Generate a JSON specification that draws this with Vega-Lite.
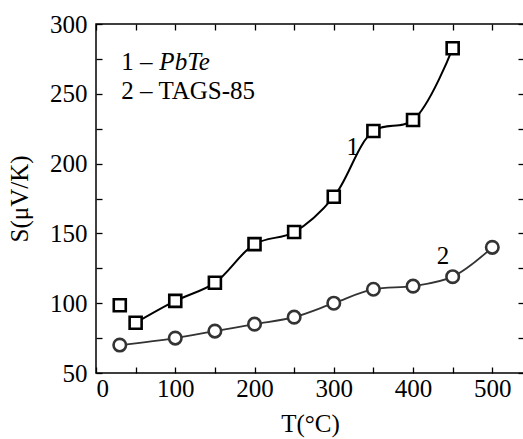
{
  "$schema": "https://vega.github.io/schema/vega-lite/v6.json",
  "width": 428,
  "height": 349,
  "autosize": {"type": "none"},
  "padding": {"left": 96, "top": 24, "right": 0, "bottom": 66},
  "config": {
    "font": "Liberation Serif",
    "view": {"stroke": "black", "strokeWidth": 1.5},
    "axis": {
      "grid": false,
      "domain": false,
      "tickColor": "black",
      "tickWidth": 1.3,
      "tickSize": -6,
      "labelColor": "black",
      "titleColor": "black",
      "labelFontSize": 25,
      "titleFontSize": 25,
      "titleFontWeight": "normal",
      "labelFont": "Liberation Serif",
      "titleFont": "Liberation Serif"
    }
  },
  "datasets": {
    "pts": [
      {"series": "1", "T": 30, "S": 98.5},
      {"series": "1", "T": 50, "S": 86},
      {"series": "1", "T": 100, "S": 101.7},
      {"series": "1", "T": 150, "S": 114.6},
      {"series": "1", "T": 200, "S": 142.3},
      {"series": "1", "T": 250, "S": 151},
      {"series": "1", "T": 300, "S": 176.2},
      {"series": "1", "T": 350, "S": 223.3},
      {"series": "1", "T": 400, "S": 231.2},
      {"series": "1", "T": 450, "S": 282.6},
      {"series": "2", "T": 30, "S": 70},
      {"series": "2", "T": 100, "S": 75},
      {"series": "2", "T": 150, "S": 80},
      {"series": "2", "T": 200, "S": 85},
      {"series": "2", "T": 250, "S": 90},
      {"series": "2", "T": 300, "S": 100},
      {"series": "2", "T": 350, "S": 110},
      {"series": "2", "T": 400, "S": 112.2},
      {"series": "2", "T": 450, "S": 119},
      {"series": "2", "T": 500, "S": 140}
    ],
    "labels": [
      {"kind": "legend", "T": 32, "S": 267, "text": "1 – "},
      {"kind": "legend", "T": 32, "S": 246.5, "text": "2 – TAGS-85"},
      {"kind": "curve", "T": 316, "S": 206, "text": "1"},
      {"kind": "curve", "T": 430, "S": 128, "text": "2"}
    ],
    "italic": [
      {"T": 32, "S": 267, "text": "PbTe"}
    ]
  },
  "layer": [
    {
      "data": {"name": "pts"},
      "transform": [{"filter": "datum.series == '1' && datum.T >= 50"}],
      "mark": {"type": "line", "interpolate": "catmull-rom", "color": "black", "strokeWidth": 2},
      "encoding": {
        "x": {
          "field": "T", "type": "quantitative",
          "scale": {"domain": [0, 540], "nice": false, "zero": false},
          "axis": {
            "orient": "bottom",
            "title": "T(°C)",
            "values": [0, 50, 100, 150, 200, 250, 300, 350, 400, 450, 500],
            "labelExpr": "datum.value % 100 == 0 ? datum.label : ''",
            "labelPadding": 9,
            "titlePadding": 10
          }
        },
        "y": {
          "field": "S", "type": "quantitative",
          "scale": {"domain": [50, 300], "nice": false, "zero": false},
          "axis": {
            "orient": "left",
            "title": "S(μV/K)",
            "values": [50, 75, 100, 125, 150, 175, 200, 225, 250, 275, 300],
            "labelExpr": "datum.value % 50 == 0 ? datum.label : ''",
            "labelPadding": 15,
            "titlePadding": 17
          }
        }
      }
    },
    {
      "data": {"name": "pts"},
      "transform": [{"filter": "datum.series == '2'"}],
      "mark": {"type": "line", "interpolate": "catmull-rom", "color": "#333333", "strokeWidth": 1.8},
      "encoding": {
        "x": {"field": "T", "type": "quantitative", "axis": null},
        "y": {"field": "S", "type": "quantitative", "axis": null}
      }
    },
    {
      "data": {"name": "pts"},
      "transform": [{"filter": "datum.series == '1'"}],
      "mark": {"type": "point", "shape": "square", "size": 144, "filled": false, "fill": "white", "fillOpacity": 1, "stroke": "black", "strokeWidth": 2.6, "opacity": 1},
      "encoding": {
        "x": {"field": "T", "type": "quantitative", "axis": null},
        "y": {"field": "S", "type": "quantitative", "axis": null}
      }
    },
    {
      "data": {"name": "pts"},
      "transform": [{"filter": "datum.series == '2'"}],
      "mark": {"type": "point", "shape": "circle", "size": 156, "filled": false, "fill": "white", "fillOpacity": 1, "stroke": "#333333", "strokeWidth": 2.6, "opacity": 1},
      "encoding": {
        "x": {"field": "T", "type": "quantitative", "axis": null},
        "y": {"field": "S", "type": "quantitative", "axis": null}
      }
    },
    {
      "data": {"name": "labels"},
      "mark": {"type": "text", "align": "left", "baseline": "alphabetic", "fontSize": 25, "font": "Liberation Serif", "color": "black"},
      "encoding": {
        "x": {"field": "T", "type": "quantitative", "axis": null},
        "y": {"field": "S", "type": "quantitative", "axis": null},
        "text": {"field": "text"}
      }
    },
    {
      "data": {"name": "italic"},
      "mark": {"type": "text", "align": "left", "baseline": "alphabetic", "fontSize": 25, "font": "Liberation Serif", "fontStyle": "italic", "color": "black", "dx": 38},
      "encoding": {
        "x": {"field": "T", "type": "quantitative", "axis": null},
        "y": {"field": "S", "type": "quantitative", "axis": null},
        "text": {"field": "text"}
      }
    },
    {
      "data": {"name": "pts"},
      "mark": {"type": "point", "opacity": 0},
      "encoding": {
        "x": {
          "field": "T", "type": "quantitative",
          "axis": {"orient": "top", "title": null, "labels": false, "values": [0, 50, 100, 150, 200, 250, 300, 350, 400, 450, 500]}
        },
        "y": {
          "field": "S", "type": "quantitative",
          "axis": {"orient": "right", "title": null, "labels": false, "values": [50, 75, 100, 125, 150, 175, 200, 225, 250, 275, 300]}
        }
      }
    }
  ],
  "resolve": {"axis": {"x": "independent", "y": "independent"}}
}
